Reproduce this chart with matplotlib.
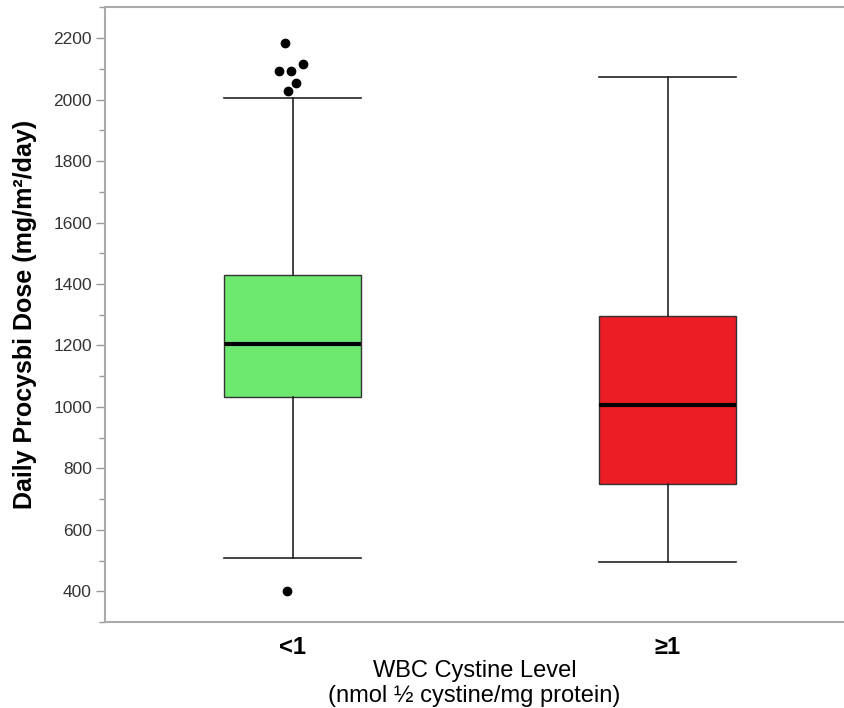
import matplotlib
matplotlib.use("Agg")
import matplotlib.pyplot as plt
from matplotlib.ticker import MultipleLocator

plt.rcParams['font.family'] = ['Liberation Sans', 'DejaVu Sans']

categories = ["<1", "\u22651"]
# box statistics (mg/m2/day)
q1 = [1033, 750]
median = [1206, 1005]
q3 = [1430, 1295]
whisker_low = [507, 494]
whisker_high = [2005, 2073]
colors = ["#6ee970", "#ec1d25"]

# outliers for group "<1" (value, horizontal jitter in category units)
outliers_lt1 = [2183, 2094, 2094, 2116, 2055, 2029, 400]
jitter_lt1 = [-0.019, -0.035, -0.005, 0.029, 0.008, -0.011, -0.016]

fig = plt.figure(figsize=(8.44, 7.08), dpi=100)
ax = fig.add_axes([0.1244, 0.1215, 0.8756, 0.868])

stats = []
for i, c in enumerate(categories):
    stats.append(dict(label=c, q1=q1[i], med=median[i], q3=q3[i],
                      whislo=whisker_low[i], whishi=whisker_high[i], fliers=[]))

bp = ax.bxp(stats, positions=[0, 1], widths=0.365, patch_artist=True,
            showfliers=False,
            boxprops=dict(edgecolor="#333333", linewidth=1.0),
            medianprops=dict(color="black", linewidth=3.0),
            whiskerprops=dict(color="#222222", linewidth=1.2),
            capprops=dict(color="#222222", linewidth=1.2),
            capwidths=0.365)
for patch, col in zip(bp["boxes"], colors):
    patch.set_facecolor(col)

ax.plot([0 + j for j in jitter_lt1], outliers_lt1, 'o', color='black',
        markersize=6, linestyle='none')

ax.set_xlim(-0.5, 1.47)
ax.set_ylim(300, 2300)
ax.yaxis.set_major_locator(MultipleLocator(200))
ax.yaxis.set_minor_locator(MultipleLocator(100))
ax.set_yticks([400, 600, 800, 1000, 1200, 1400, 1600, 1800, 2000, 2200])

for side in ["left", "top", "bottom"]:
    ax.spines[side].set_color("#aaaaaa")
    ax.spines[side].set_linewidth(1.5)
ax.spines["right"].set_visible(False)

ax.tick_params(axis='y', which='major', length=6.5, width=1, color="#999999",
               labelsize=12.5, labelcolor="#333333", pad=3)
ax.tick_params(axis='y', which='minor', length=4, width=1, color="#999999")
ax.tick_params(axis='x', length=0, pad=10)
ax.set_xticks([0, 1])
ax.set_xticklabels(categories, fontsize=17, fontweight='bold')

ax.set_ylabel("Daily Procysbi Dose (mg/m\u00b2/day)", fontsize=18,
              fontweight='bold', labelpad=12)
ax.set_xlabel("WBC Cystine Level\n(nmol \u00bd cystine/mg protein)", fontsize=17,
              labelpad=1, linespacing=1.15)

fig.savefig("out.png", dpi=100)
